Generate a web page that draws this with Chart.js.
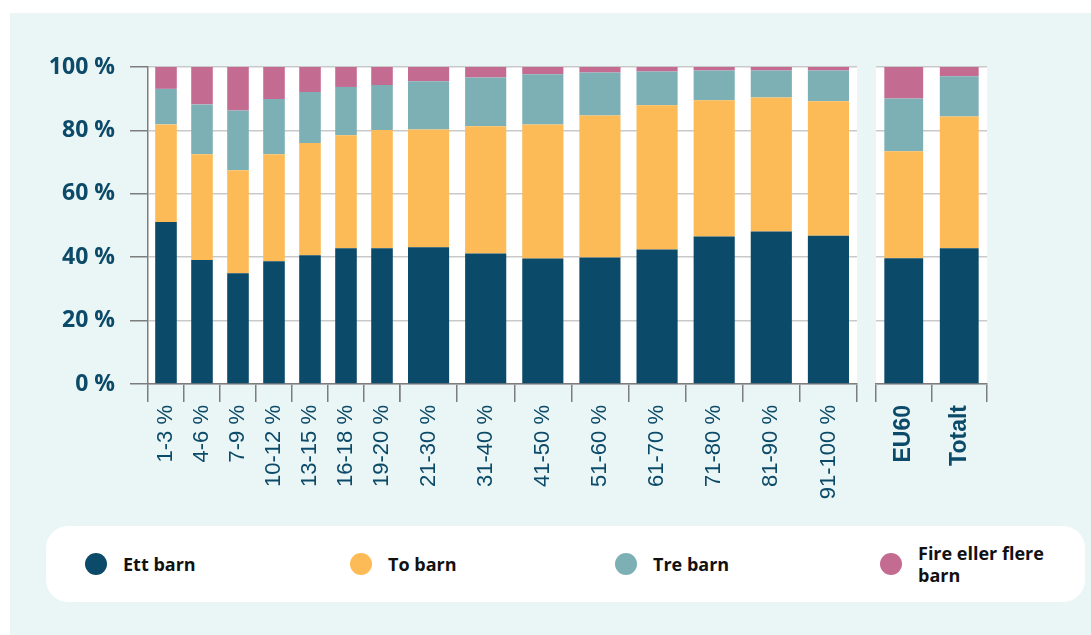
<!DOCTYPE html>
<html>
<head>
<meta charset="utf-8">
<script src="https://cdn.jsdelivr.net/npm/chart.js@4.4.0/dist/chart.umd.min.js"></script>
<style>
    html, body { margin: 0; padding: 0; background: #fff; }
    #wrap { position: relative; width: 1091px; height: 635px; overflow: hidden; }
    #panel { position: absolute; left: 10px; top: 13px; right: 0; bottom: 0; background: #eaf5f5; }
    canvas.cv { position: absolute; left: 0; top: 0; }
    #legend { position: absolute; left: 46px; top: 526px; width: 1039px; height: 76px; background: #fff; border-radius: 22px; }
    .item { position: absolute; top: 0; height: 76px; display: flex; align-items: center;
            font: bold 18px "Open Sans", sans-serif; color: #111; line-height: 22px; }
    .item span { max-width: 140px; }
    .dot { width: 22px; height: 22px; border-radius: 50%; margin-right: 16px; flex: none; }
</style>
</head>
<body>
<div id="wrap">
    <div id="panel"></div>
    <canvas class="cv" id="chartA" width="1091" height="520"></canvas>
    <canvas class="cv" id="chartB" width="1091" height="520"></canvas>
    <canvas class="cv" id="chartC" width="1091" height="520"></canvas>
    <div id="legend"></div>
</div>
<script>
// data (share of families, %)
var categories = ['1-3 %', '4-6 %', '7-9 %', '10-12 %', '13-15 %', '16-18 %', '19-20 %',
    '21-30 %', '31-40 %', '41-50 %', '51-60 %', '61-70 %', '71-80 %', '81-90 %', '91-100 %',
    'EU60', 'Totalt'];
var ettBarn  = [51.1, 39.1, 34.9, 38.7, 40.6, 42.8, 42.8, 43.1, 41.2, 39.6, 39.9, 42.4, 46.5, 48.1, 46.8, 39.7, 42.8];
var toBarn   = [30.8, 33.4, 32.5, 33.8, 35.4, 35.7, 37.3, 37.2, 40.1, 42.3, 44.8, 45.5, 43.0, 42.3, 42.4, 33.7, 41.6];
var treBarn  = [11.2, 15.7, 18.9, 17.4, 16.1, 15.2, 14.2, 15.2, 15.4, 15.8, 13.6, 10.7, 9.4, 8.5, 9.7, 16.7, 12.7];
var fireBarn = [6.9, 11.8, 13.7, 10.1, 7.9, 6.3, 5.7, 4.5, 3.3, 2.3, 1.7, 1.4, 1.1, 1.1, 1.1, 9.9, 2.9];
var yTicks = [0, 20, 40, 60, 80, 100];

var seriesNames = ['Ett barn', 'To barn', 'Tre barn', 'Fire eller flere barn'];
var seriesData = [ettBarn, toBarn, treBarn, fireBarn];
var seriesColors = ['#0b4a68', '#fcbb56', '#7db0b5', '#c46b91'];

var textColor = '#0b4a68';
var gridColor = '#c9c9c9';
var axisColor = '#7d7d7d';

// white plot area behind the bars
var plotBg = {
    id: 'plotBg',
    beforeDraw: function (chart) {
        var a = chart.chartArea;
        var ctx = chart.ctx;
        ctx.save();
        ctx.fillStyle = '#fff';
        ctx.fillRect(a.left, a.top, a.right - a.left, a.bottom - a.top);
        ctx.restore();
    }
};

function makeChart(id, from, to, opts) {
    var ctx = document.getElementById(id);
    return new Chart(ctx, {
        type: 'bar',
        data: {
            labels: categories.slice(from, to),
            datasets: seriesNames.map(function (name, i) {
                return {
                    label: name,
                    data: seriesData[i].slice(from, to),
                    backgroundColor: seriesColors[i],
                    borderWidth: 0,
                    categoryPercentage: 1,
                    barPercentage: opts.barPct,
                };
            })
        },
        plugins: [plotBg],
        options: {
            responsive: false,
            animation: false,
            layout: {
                padding: {left: opts.left, right: opts.right, top: 67, bottom: 0}
            },
            plugins: {
                legend: {display: false},
                tooltip: {enabled: false},
            },
            scales: {
                x: {
                    stacked: true,
                    grid: {
                        drawOnChartArea: false,
                        drawTicks: true,
                        tickLength: 18,
                        tickColor: axisColor,
                        lineWidth: 1.5,
                    },
                    border: {display: true, color: axisColor, width: 1.5},
                    ticks: {
                        autoSkip: false,
                        minRotation: 90,
                        maxRotation: 90,
                        padding: 3,
                        color: textColor,
                        font: opts.boldX
                            ? {family: 'Liberation Sans', size: 23, weight: 'bold'}
                            : {family: 'Liberation Sans', size: 22, weight: 'normal'},
                    },
                    afterFit: function (s) { s.height = 136; },
                },
                y: {
                    stacked: true,
                    min: 0,
                    max: 100,
                    afterBuildTicks: function (s) {
                        s.ticks = yTicks.map(function (v) { return {value: v}; });
                    },
                    grid: {
                        color: gridColor,
                        lineWidth: 1.5,
                        drawTicks: opts.yAxis,
                        tickLength: 18,
                        tickColor: axisColor,
                    },
                    border: {display: opts.yAxis, color: axisColor, width: 1.5},
                    ticks: {
                        display: opts.yAxis,
                        padding: 15,
                        color: textColor,
                        font: {family: 'Open Sans', size: 23, weight: 'bold'},
                        callback: function (v) { return v + ' %'; }
                    },
                    afterFit: function (s) { s.width = opts.yAxis ? 148 : 0; },
                }
            }
        }
    });
}

makeChart('chartA', 0, 7, {left: 0, right: 1091 - 400, barPct: 0.6, yAxis: true, boldX: false});
makeChart('chartB', 7, 15, {left: 400, right: 1091 - 857, barPct: 0.72, yAxis: false, boldX: false});
makeChart('chartC', 15, 17, {left: 876, right: 1091 - 987, barPct: 0.7, yAxis: false, boldX: true});

// legend
var legend = document.getElementById('legend');
var legendLeft = [39, 304, 569, 834];
seriesNames.forEach(function (name, i) {
    var item = document.createElement('div');
    item.className = 'item';
    item.style.left = legendLeft[i] + 'px';
    var dot = document.createElement('div');
    dot.className = 'dot';
    dot.style.background = seriesColors[i];
    var txt = document.createElement('span');
    txt.textContent = name;
    item.appendChild(dot);
    item.appendChild(txt);
    legend.appendChild(item);
});
</script>
</body>
</html>
